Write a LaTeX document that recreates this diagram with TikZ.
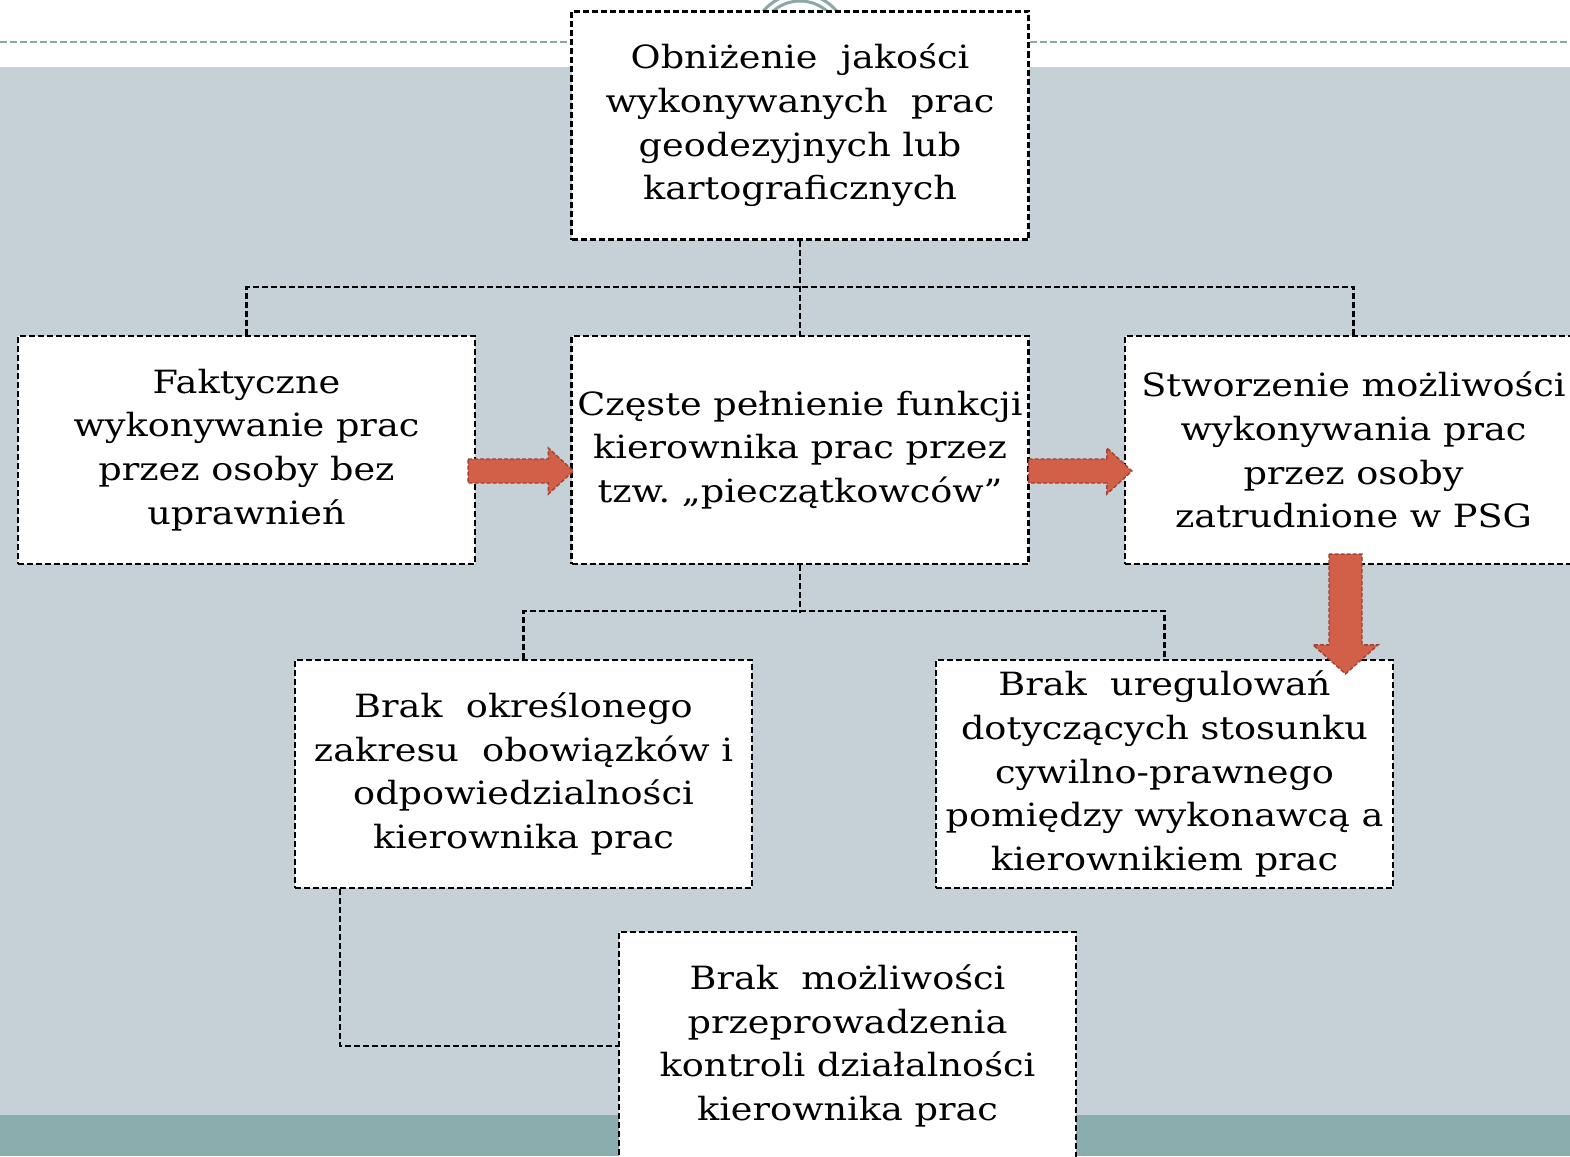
\documentclass[tikz,border=0pt]{standalone}
\usepackage{fontspec}
\setmainfont[FakeStretch=1.145]{DejaVu Serif}
\usetikzlibrary{calc}
\frenchspacing
\definecolor{bgmain}{RGB}{197,209,215}
\definecolor{bgband}{RGB}{139,173,173}
\definecolor{rulecol}{RGB}{138,168,168}
\definecolor{arrfill}{RGB}{210,95,72}
\definecolor{arrline}{RGB}{160,66,52}
\newcommand\myharrow[2]{%
  \draw[fatarr] ($(#1)+(0,-12)$) -- ($(#2)+(-25,-12)$) -- ($(#2)+(-25,-23)$) -- (#2)
    -- ($(#2)+(-25,23)$) -- ($(#2)+(-25,12)$) -- ($(#1)+(0,12)$) -- cycle;}
\newcommand\myvarrow[2]{%
  \draw[fatarr] ($(#1)+(-16.5,0)$) -- ($(#2)+(-16.5,-29)$) -- ($(#2)+(-32.5,-29)$) -- (#2)
    -- ($(#2)+(32.5,-29)$) -- ($(#2)+(16.5,-29)$) -- ($(#1)+(16.5,0)$) -- cycle;}
\begin{document}
\begin{tikzpicture}[x=1pt,y=-1pt,
  box/.style={draw=black, fill=white, line width=2.2pt, dash pattern=on 6pt off 3pt,
    minimum width=457pt, minimum height=228pt, align=center, inner sep=0pt,
    font=\fontsize{32}{43.7}\selectfont},
  conn/.style={draw=black, line width=2.2pt, dash pattern=on 6pt off 3pt},
  fatarr/.style={fill=arrfill, draw=arrline, line width=1.4pt, dash pattern=on 4pt off 2pt}]
\useasboundingbox (0,0) rectangle (1570,1156);
\fill[white] (0,0) rectangle (1570,67);
\fill[bgmain] (0,67) rectangle (1570,1115);
\fill[bgband] (0,1115) rectangle (1570,1156);
\draw[rulecol, line width=2.5pt, dash pattern=on 7pt off 3pt] (0,42) -- (1570,42);
\draw[rulecol, line width=3pt, fill=white] (800,42) circle (48);
\draw[rulecol, line width=3pt] (800,42) circle (41);

\node[box] (top) at (800,125.5) {Obniżenie\ \ jakości\\wykonywanych\ \ prac\\geodezyjnych lub\\kartograficznych};
\node[box] (fak) at (246.5,450) {Faktyczne\\wykonywanie prac\\przez osoby bez\\uprawnień};
\node[box] (czes) at (800,450) {Częste pełnienie funkcji\\kierownika prac przez\\tzw. „pieczątkowców”};
\node[box] (stw) at (1353.5,450) {Stworzenie możliwości\\wykonywania prac\\przez osoby\\zatrudnione w PSG};
\node[box] (bl) at (523.5,774) {Brak\ \ określonego\\zakresu\ \ obowiązków i\\odpowiedzialności\\kierownika prac};
\node[box] (br) at (1164.5,774) {Brak\ \ uregulowań\\dotyczących stosunku\\cywilno-prawnego\\pomiędzy wykonawcą a\\kierownikiem prac};
\node[box] (bot) at (847.5,1046) {Brak\ \ możliwości\\przeprowadzenia\\kontroli działalności\\kierownika prac};

\draw[conn] (top.south) -- (czes.north);
\draw[conn] (fak.north) -- ++(0,-48) -| (stw.north);
\draw[conn] (czes.south) -- ++(0,48) coordinate (j2);
\draw[conn] (bl.north) -- ++(0,-48) -| (br.north);
\draw[conn] ($(bl.south west)+(46,0)$) |- (bot.west);

\coordinate (a1s) at ($(fak.east)+(-8,21)$);
\coordinate (a1t) at ($(czes.west)+(3,21)$);
\myharrow{a1s}{a1t}
\coordinate (a2s) at ($(czes.east)+(-1,21)$);
\coordinate (a2t) at ($(stw.west)+(8,21)$);
\myharrow{a2s}{a2t}
\coordinate (a3s) at ($(stw.south)+(-8,-11)$);
\coordinate (a3t) at ($(br.north)+(181,15)$);
\myvarrow{a3s}{a3t}
\end{tikzpicture}
\end{document}
